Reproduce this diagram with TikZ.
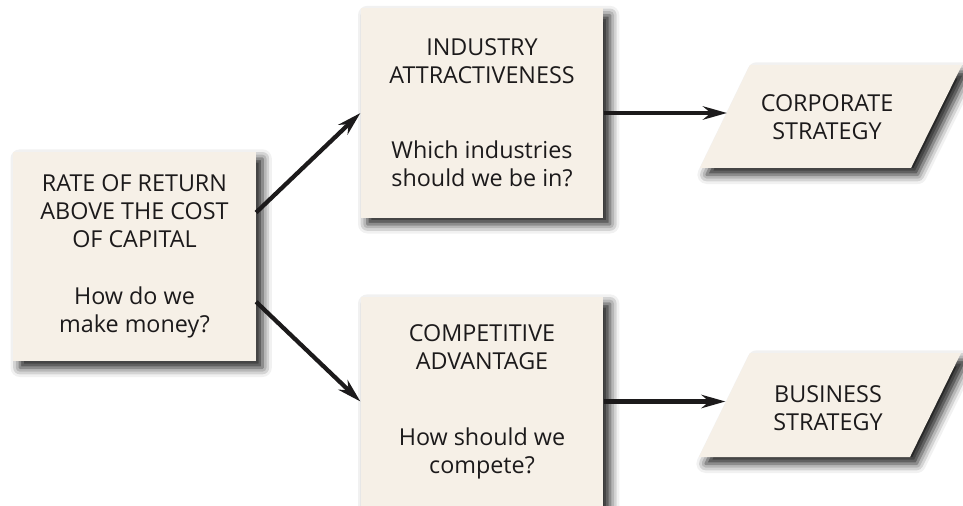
\documentclass[tikz,border=0pt]{standalone}
\usepackage{fontspec}
\setmainfont{Open Sans}
\usetikzlibrary{arrows.meta, positioning, calc, shadows.blur}

\definecolor{boxfill}{RGB}{246,240,231}
\definecolor{ink}{RGB}{28,26,27}

\tikzset{
  soft shadow/.style={blur shadow={shadow xshift=5pt, shadow yshift=-5pt,
      shadow blur radius=7pt, shadow opacity=90}},
  box/.style={fill=boxfill, soft shadow, text=ink, align=center, inner sep=0pt,
      minimum width=182pt, minimum height=156.75pt,
      font=\fontsize{17.5pt}{21pt}\selectfont},
  strat/.style={fill=boxfill, soft shadow},
  strat text/.style={text=ink, align=center, inner sep=0pt,
      font=\fontsize{17.5pt}{21pt}\selectfont},
  flow/.style={-{Stealth[length=18pt, width=10pt]}, line width=3.2pt, draw=ink},
}

\begin{document}
\begin{tikzpicture}[x=0.75pt, y=-0.75pt]
  \useasboundingbox (0,0) rectangle (963,506);
  % Boxes
  \node[box] (rate) at (134.5,256.5)
    {RATE OF RETURN\\ABOVE THE COST\\OF CAPITAL\\[22pt]How do we\\make money?};
  \node[box] (ind) at (482,113)
    {INDUSTRY\\ATTRACTIVENESS\\[35pt]Which industries\\should we be in?};
  \node[box] (comp) at (482,401.5)
    {COMPETITIVE\\ADVANTAGE\\[36pt]How should we\\compete?};
  % Strategy levels (parallelograms)
  \fill[strat] (750,65) -- (962,65) -- (911,168) -- (700,168) -- cycle;
  \node[strat text] (corp) at (827,117) {CORPORATE\\STRATEGY};
  \coordinate (corp in) at (727,113);
  \fill[strat] (750,353) -- (961,353) -- (910,457) -- (699,457) -- cycle;
  \node[strat text] (bus) at (828,408) {BUSINESS\\STRATEGY};
  \coordinate (bus in) at (725.5,401.5);
  % Arrows
  \draw[flow] ([yshift=33pt]rate.east) -- (ind.west);
  \draw[flow] ([yshift=-34pt]rate.east) -- (comp.west);
  \draw[flow] (ind.east) -- (corp in);
  \draw[flow] (comp.east) -- (bus in);
\end{tikzpicture}
\end{document}
